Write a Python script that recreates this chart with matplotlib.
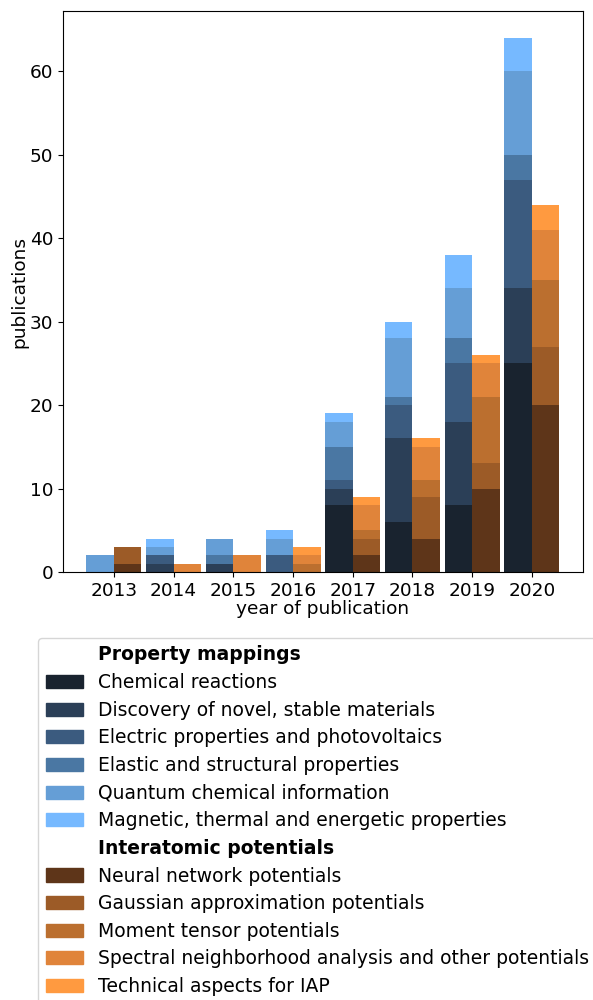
import matplotlib
matplotlib.use('Agg')
import matplotlib.pyplot as plt
from matplotlib.patches import Patch
import numpy as np

years = np.array([2013, 2014, 2015, 2016, 2017, 2018, 2019, 2020])

# property mappings (stacked, bottom to top)
prop_names = ['Chemical reactions',
              'Discovery of novel, stable materials',
              'Electric properties and photovoltaics',
              'Elastic and structural properties',
              'Quantum chemical information',
              'Magnetic, thermal and energetic properties']
chemical = [0, 0, 0, 0, 8, 6, 8, 25]
discovery = [0, 1, 1, 0, 2, 10, 10, 9]
electric = [0, 1, 0, 2, 1, 4, 7, 13]
elastic = [0, 0, 1, 0, 4, 1, 3, 3]
quantum = [2, 1, 2, 2, 3, 7, 6, 10]
magnetic = [0, 1, 0, 1, 1, 2, 4, 4]
prop_colors = ['#19232f', '#2b3f57', '#3b5b7f', '#4a77a3', '#659ed6', '#76b9ff']

# interatomic potentials (stacked, bottom to top)
iap_names = ['Neural network potentials',
             'Gaussian approximation potentials',
             'Moment tensor potentials',
             'Spectral neighborhood analysis and other potentials',
             'Technical aspects for IAP']
neural = [1, 0, 0, 0, 2, 4, 10, 20]
gaussian = [2, 0, 0, 0, 2, 5, 3, 7]
moment = [0, 0, 0, 1, 1, 2, 8, 8]
spectral = [0, 1, 2, 1, 3, 4, 4, 6]
technical = [0, 0, 0, 1, 1, 1, 1, 3]
iap_colors = ['#5e3519', '#9c5b27', '#bb6f2f', '#e0843a', '#ff9a40']

prop_data = [chemical, discovery, electric, elastic, quantum, magnetic]
iap_data = [neural, gaussian, moment, spectral, technical]

w = 0.46
fig = plt.figure(figsize=(5.93, 10), dpi=100)
ax = fig.add_axes([0.106, 0.428, 0.877, 0.561])

bottom = np.zeros(len(years))
for vals, c in zip(prop_data, prop_colors):
    ax.bar(years - w / 2, vals, width=w, bottom=bottom, color=c)
    bottom += np.array(vals)

bottom = np.zeros(len(years))
for vals, c in zip(iap_data, iap_colors):
    ax.bar(years + w / 2, vals, width=w, bottom=bottom, color=c)
    bottom += np.array(vals)

ax.set_xticks(years)
ax.set_xticklabels([str(y) for y in years])
ax.tick_params(labelsize=13.3)
ax.set_ylabel('publications', fontsize=13.3, labelpad=1)
ax.set_xlabel('year of publication', fontsize=13.3, labelpad=0)

blank = Patch(facecolor='none', edgecolor='none')
handles = [blank] + [Patch(color=c) for c in prop_colors] + \
          [blank] + [Patch(color=c) for c in iap_colors]
labels = ['Property mappings'] + prop_names + ['Interatomic potentials'] + iap_names
leg = fig.legend(handles, labels, loc='upper left',
                 bbox_to_anchor=(38 / 593, 1 - 638 / 1000),
                 fontsize=13.5, labelspacing=0.46,
                 borderaxespad=0)
for t in leg.get_texts():
    if t.get_text() in ('Property mappings', 'Interatomic potentials'):
        t.set_fontweight('bold')

fig.savefig('out.png', dpi=100)
